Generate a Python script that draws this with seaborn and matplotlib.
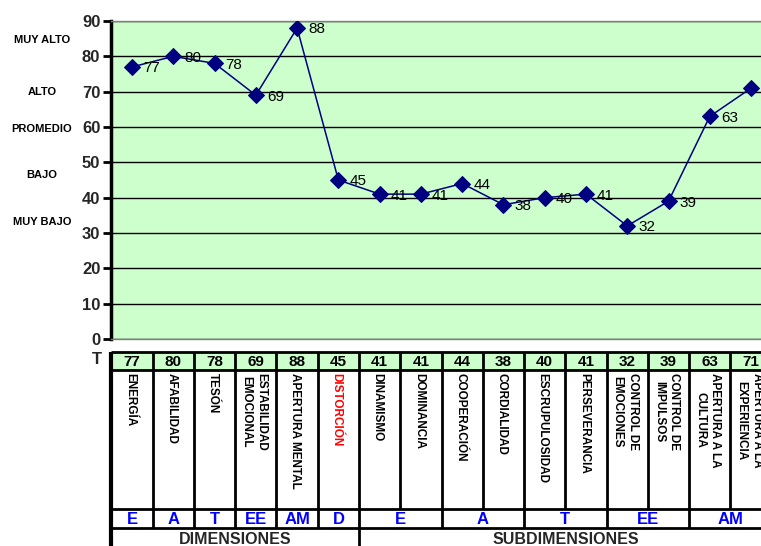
import matplotlib
matplotlib.use('Agg')
import matplotlib.pyplot as plt
from matplotlib.transforms import blended_transform_factory
import seaborn as sns
import pandas as pd

# data
names = ['ENERGÍA', 'AFABILIDAD', 'TESÓN', 'ESTABILIDAD\nEMOCIONAL', 'APERTURA MENTAL',
         'DISTORCIÓN', 'DINAMISMO', 'DOMINANCIA', 'COOPERACIÓN', 'CORDIALIDAD',
         'ESCRUPULOSIDAD', 'PERSEVERANCIA', 'CONTROL DE\nEMOCIONES', 'CONTROL DE\nIMPULSOS',
         'APERTURA A LA\nCULTURA', 'APERTURA A LA\nEXPERIENCIA']
values = [77, 80, 78, 69, 88, 45, 41, 41, 44, 38, 40, 41, 32, 39, 63, 71]
dim_letters = ['E', 'A', 'T', 'EE', 'AM', 'D']
sub_letters = ['E', 'A', 'T', 'EE', 'AM']
levels = ['MUY ALTO', 'ALTO', 'PROMEDIO', 'BAJO', 'MUY BAJO']
level_pos = [84.5, 70, 59.5, 46.5, 33]
groups = ['DIMENSIONES', 'SUBDIMENSIONES']

sns.set_theme(style='white')
plt.rcParams['font.family'] = ['Liberation Sans', 'DejaVu Sans']

W, H = 761, 546
fig = plt.figure(figsize=(W / 100, H / 100), dpi=100)
x0, x1 = 111.4, 771.7
ax = fig.add_axes([x0 / W, (H - 339) / H, (x1 - x0) / W, 318 / H])

df = pd.DataFrame({'idx': range(len(values)), 'T': values})
sns.lineplot(data=df, x='idx', y='T', marker='D', color='#000080', markersize=8,
             markeredgecolor='#000080', linewidth=1.1, ax=ax, zorder=3)
ax.set_xlim(-0.5, len(values) - 0.5)
ax.set_ylim(0, 90)
ax.set_facecolor('#CCFFCC')
ax.set_yticks(range(0, 91, 10))
ax.yaxis.grid(True, color='black', lw=1)
ax.set_xticks([])
ax.set_xlabel('')
ax.set_ylabel('')
for s in ['top', 'right', 'bottom']:
    ax.spines[s].set_color('#808080')
    ax.spines[s].set_linewidth(1)
ax.spines['left'].set_color('black')
ax.spines['left'].set_linewidth(2.5)
ax.tick_params(axis='y', direction='out', length=6, width=2, color='black',
               labelsize=12, pad=2, left=True)
for lab in ax.get_yticklabels():
    lab.set_fontweight('bold')

for i, v in enumerate(values):
    ax.annotate(str(v), (i, v), xytext=(8, -1), textcoords='offset points',
                va='center', ha='left', fontsize=11, color='black')

tr = blended_transform_factory(fig.transFigure, ax.transData)
for lv, p in zip(levels, level_pos):
    ax.text(42 / W, p, lv, transform=tr, ha='center', va='center',
            fontsize=8, fontweight='bold', color='black')

# table below the chart, y in pixel units
tax = fig.add_axes([x0 / W, 0, (x1 - x0) / W, (H - 352) / H])
tax.set_xlim(-0.5, len(values) - 0.5)
tax.set_ylim(H, 352)
tax.axis('off')
r0, r1, r2, r3, r4 = 352, 370, 509, 528, 560
n = len(values)
tax.fill_between([-0.5, n - 0.5], r0, r1, color='#CCFFCC', zorder=0)
tax.hlines([r0, r1, r2, r3], -0.5, n - 0.5, color='black', lw=2, clip_on=False)
tax.vlines([k - 0.5 for k in range(n + 1)], r0, r2, color='black', lw=2, clip_on=False)
tax.vlines([k - 0.5 for k in [0, 1, 2, 3, 4, 5, 6, 8, 10, 12, 14, 16]], r2, r3,
           color='black', lw=2, clip_on=False)
tax.vlines([k - 0.5 for k in [0, 6, 16]], r3, r4, color='black', lw=2, clip_on=False)
tax.vlines([-0.5], r0, r4, color='black', lw=3, clip_on=False)

for i, (v, nm) in enumerate(zip(values, names)):
    tax.text(i, (r0 + r1) / 2 + 1, str(v), ha='center', va='center',
             fontsize=11, fontweight='bold', color='black')
    tax.text(i - 0.05, r1 + 3, nm, rotation=270, ha='center', va='top', fontsize=8.5,
             fontweight='bold', color='red' if nm == 'DISTORCIÓN' else 'black',
             linespacing=1.35)

for i, lt in enumerate(dim_letters):
    tax.text(i, (r2 + r3) / 2 + 1, lt, ha='center', va='center', fontsize=12,
             fontweight='bold', color='#0000FF')
for j, lt in enumerate(sub_letters):
    tax.text(6.5 + 2 * j, (r2 + r3) / 2 + 1, lt, ha='center', va='center', fontsize=12,
             fontweight='bold', color='#0000FF')

tax.text(2.5, 539, groups[0], ha='center', va='center', fontsize=11.5, fontweight='bold')
tax.text(10.5, 539, groups[1], ha='center', va='center', fontsize=11.5, fontweight='bold')

fig.text(97 / W, (H - 360) / H, 'T', ha='center', va='center', fontsize=12,
         fontweight='bold')

fig.savefig('out.png', dpi=100)
